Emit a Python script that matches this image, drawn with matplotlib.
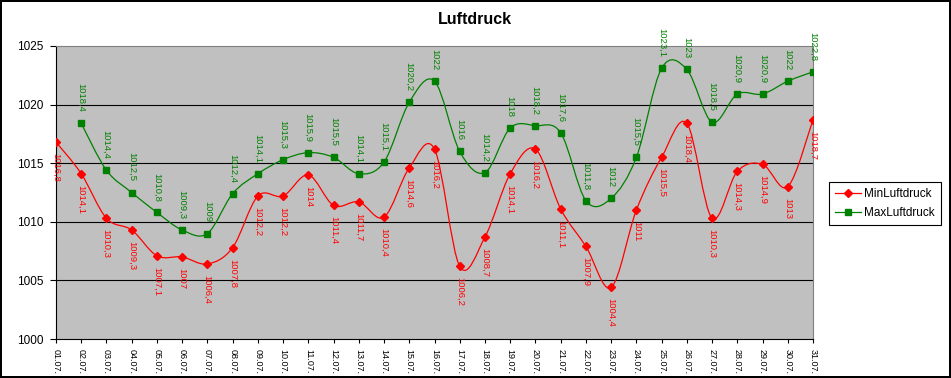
import matplotlib.pyplot as plt
from matplotlib.path import Path
from matplotlib.patches import PathPatch
from matplotlib.lines import Line2D

days = ['%02d.07.' % d for d in range(1, 32)]
min_druck = [1016.8, 1014.1, 1010.3, 1009.3, 1007.1, 1007.0, 1006.4, 1007.8, 1012.2, 1012.2,
             1014.0, 1011.4, 1011.7, 1010.4, 1014.6, 1016.2, 1006.2, 1008.7, 1014.1, 1016.2,
             1011.1, 1007.9, 1004.4, 1011.0, 1015.5, 1018.4, 1010.3, 1014.3, 1014.9, 1013.0,
             1018.7]
# Max series has no value for 01.07.
max_druck = [None, 1018.4, 1014.4, 1012.5, 1010.8, 1009.3, 1009.0, 1012.4, 1014.1, 1015.3,
             1015.9, 1015.5, 1014.1, 1015.1, 1020.2, 1022.0, 1016.0, 1014.2, 1018.0, 1018.2,
             1017.6, 1011.8, 1012.0, 1015.5, 1023.1, 1023.0, 1018.5, 1020.9, 1020.9, 1022.0,
             1022.8]

RED = '#FF0000'
GREEN = '#008000'


def fmt(v):
    s = ('%.1f' % v).rstrip('0').rstrip('.')
    return s.replace('.', ',')


def smooth_path(xs, ys):
    # excel-like smoothed line (catmull-rom as cubic bezier)
    n = len(xs)
    verts = [(xs[0], ys[0])]
    codes = [Path.MOVETO]
    for i in range(n - 1):
        a = max(i - 1, 0)
        b = min(i + 2, n - 1)
        c1 = (xs[i] + (xs[i + 1] - xs[a]) / 6, ys[i] + (ys[i + 1] - ys[a]) / 6)
        c2 = (xs[i + 1] - (xs[b] - xs[i]) / 6, ys[i + 1] - (ys[b] - ys[i]) / 6)
        verts += [c1, c2, (xs[i + 1], ys[i + 1])]
        codes += [Path.CURVE4] * 3
    return Path(verts, codes)


plt.rcParams['font.family'] = ['Liberation Sans', 'DejaVu Sans']

fig = plt.figure(figsize=(9.51, 3.78), dpi=100, facecolor='white',
                 edgecolor='black', linewidth=1.5)
ax = fig.add_axes([56 / 951, 1 - 339 / 378, (813 - 56) / 951, (339 - 46) / 378])
ax.set_facecolor('#C0C0C0')

series = [
    (min_druck, RED, 'D', 4.0, 'MinLuftdruck', -1),
    (max_druck, GREEN, 's', 4.5, 'MaxLuftdruck', 1),
]
for vals, col, mk, ms, name, side in series:
    xs = [i for i, v in enumerate(vals) if v is not None]
    ys = [v for v in vals if v is not None]
    ax.add_patch(PathPatch(smooth_path(xs, ys), facecolor='none', edgecolor=col,
                           lw=0.9, zorder=3))
    ax.plot(xs, ys, linestyle='none', marker=mk, ms=ms, color=col, zorder=4)
    for x, y in zip(xs, ys):
        ax.annotate(fmt(y), (x, y), xytext=(0, 11 * side), textcoords='offset pixels',
                    rotation=270, ha='center', va='bottom' if side > 0 else 'top',
                    fontsize=6.8, color=col, zorder=5, annotation_clip=False)

ax.set_xlim(0, len(days) - 1)
ax.set_ylim(1000, 1025)
ax.set_yticks(range(1000, 1026, 5))
ax.set_xticks(range(len(days)))
ax.set_xticklabels(days, rotation=270, fontsize=6.5)
for lbl in ax.get_yticklabels():
    lbl.set_fontsize(8.5)
ax.tick_params(axis='y', direction='out', length=4, width=0.8, pad=5)
ax.tick_params(axis='x', direction='out', length=3, width=0.8, pad=4)

for y in range(1005, 1025, 5):
    ax.axhline(y, color='black', lw=0.8, zorder=1)

ax.spines['left'].set_color('black')
ax.spines['bottom'].set_color('black')
ax.spines['top'].set_color('#808080')
ax.spines['right'].set_color('#808080')
for s in ax.spines.values():
    s.set_linewidth(0.8)

fig.text(0.4995, 1 - 20 / 378, 'Luftdruck', ha='center', va='center',
         fontsize=11.5, fontweight='bold')

handles = [Line2D([], [], color=RED, marker='D', ms=4, lw=0.9),
           Line2D([], [], color=GREEN, marker='s', ms=4.5, lw=0.9)]
leg = fig.legend(handles, ['MinLuftdruck', 'MaxLuftdruck'], loc='center',
                 bbox_to_anchor=(885 / 951, 1 - 203.5 / 378), fontsize=8.5,
                 frameon=True, fancybox=False, edgecolor='black', framealpha=1,
                 borderpad=0.5, handlelength=2.2, handletextpad=0.3, labelspacing=0.6,
                 borderaxespad=0)
leg.get_frame().set_linewidth(0.8)

fig.savefig('out.png', dpi=100)
